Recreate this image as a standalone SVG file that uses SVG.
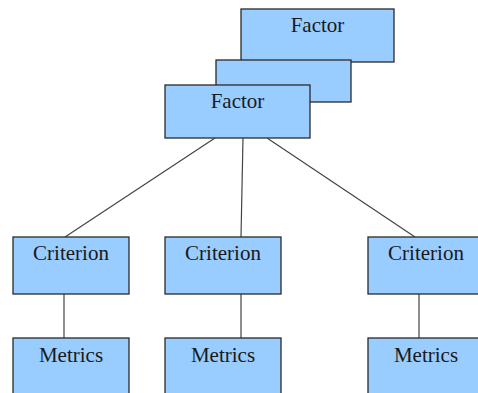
<svg xmlns="http://www.w3.org/2000/svg" width="478" height="393" viewBox="0 0 478 393">
  <style>
    .box { fill: #99ccff; stroke: #2a2a2a; stroke-width: 1.3; }
    .lbl { font-family: "Liberation Serif", "Times New Roman", serif; font-size: 21px; fill: #1a1a1a; text-anchor: middle; }
    .link { stroke: #444; stroke-width: 1.2; fill: none; }
  </style>
  <rect width="478" height="393" fill="#ffffff"/>

  <g id="factor-back">
    <rect class="box" x="241" y="9" width="153" height="53"/>
    <text class="lbl" x="317.5" y="32">Factor</text>
  </g>
  <g id="factor-middle">
    <rect class="box" x="216" y="60" width="135" height="42"/>
  </g>
  <g id="factor-front">
    <rect class="box" x="165" y="85" width="145" height="53"/>
    <text class="lbl" x="237.5" y="108">Factor</text>
  </g>

  <g id="connectors">
    <line class="link" x1="215" y1="138" x2="65" y2="237"/>
    <line class="link" x1="243" y1="138" x2="241" y2="237"/>
    <line class="link" x1="267" y1="138" x2="415" y2="237"/>
    <line class="link" x1="64" y1="288" x2="64" y2="338"/>
    <line class="link" x1="241" y1="288" x2="241" y2="338"/>
    <line class="link" x1="419" y1="288" x2="419" y2="338"/>
  </g>

  <g id="criterion-1">
    <rect class="box" x="13" y="237" width="116" height="57"/>
    <text class="lbl" x="71" y="260">Criterion</text>
  </g>
  <g id="criterion-2">
    <rect class="box" x="165" y="237" width="116" height="57"/>
    <text class="lbl" x="223" y="260">Criterion</text>
  </g>
  <g id="criterion-3">
    <rect class="box" x="368" y="237" width="116" height="57"/>
    <text class="lbl" x="426" y="260">Criterion</text>
  </g>

  <g id="metrics-1">
    <rect class="box" x="13" y="338" width="116" height="70"/>
    <text class="lbl" x="71" y="362">Metrics</text>
  </g>
  <g id="metrics-2">
    <rect class="box" x="165" y="338" width="116" height="70"/>
    <text class="lbl" x="223" y="362">Metrics</text>
  </g>
  <g id="metrics-3">
    <rect class="box" x="368" y="338" width="116" height="70"/>
    <text class="lbl" x="426" y="362">Metrics</text>
  </g>
</svg>
